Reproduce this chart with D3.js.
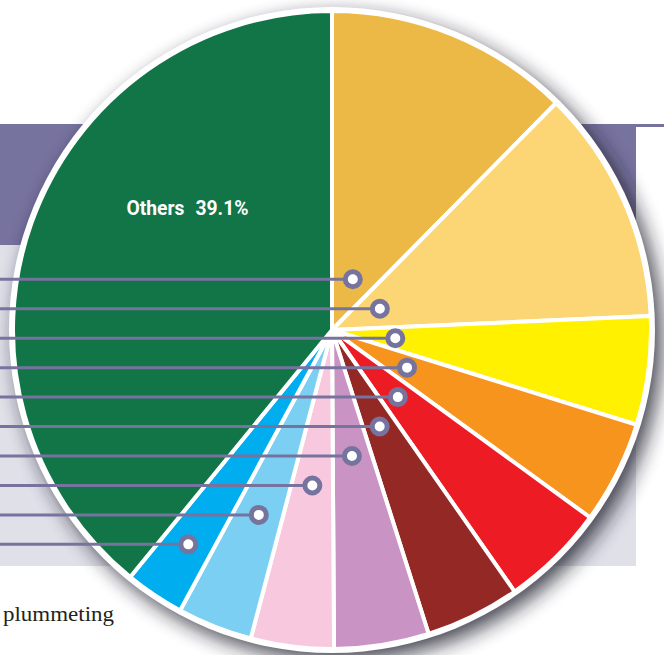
<!DOCTYPE html>
<html>
<head>
<meta charset="utf-8">
<script src="https://cdn.jsdelivr.net/npm/d3@7"></script>
<style>
  html, body { margin: 0; padding: 0; background: #fff; }
  svg { display: block; }
</style>
</head>
<body>
<svg id="drawing_region"></svg>
<script>
// data (share of total, %), clockwise from 12 o'clock
const categories = ["Segment 1", "Segment 2", "Segment 3", "Segment 4", "Segment 5",
                    "Segment 6", "Segment 7", "Segment 8", "Segment 9", "Segment 10", "Others"];
const shares = [12.4, 11.9, 5.5, 5.2, 5.3, 4.8, 4.8, 4.2, 3.8, 3.0, 39.1];
const colors = ["#edb946", "#fcd675", "#fff100", "#f7941d", "#ed1c24", "#932824",
                "#c994c4", "#f8c9de", "#7bcff3", "#00adee", "#117548"];
const footText = "plummeting";

class PieChart {

    constructor(config, data) {
        this.data = data;
        this.config = config;
        this.init();
    }

    init() {
        let self = this;
        const c = self.config;

        self.svg = d3.select(c.parent)
            .attr('width', c.width)
            .attr('height', c.height);

        // drop shadow for the disc
        const defs = self.svg.append('defs');
        const f = defs.append('filter').attr('id', 'shadow')
            .attr('x', '-20%').attr('y', '-20%').attr('width', '140%').attr('height', '140%');
        f.append('feGaussianBlur').attr('stdDeviation', 10);

        // page background bands
        self.svg.append('rect').attr('x', 0).attr('y', 124).attr('width', c.width).attr('height', 121)
            .attr('fill', '#77739f');
        self.svg.append('rect').attr('x', 0).attr('y', 245).attr('width', c.width).attr('height', 321)
            .attr('fill', '#e0e0e9');
        self.svg.append('rect').attr('x', 636).attr('y', 127).attr('width', 28).attr('height', c.height - 127)
            .attr('fill', '#fff');

        self.svg.append('text')
            .attr('x', 3).attr('y', 621)
            .attr('font-family', 'Liberation Serif, serif')
            .attr('font-size', '22px')
            .attr('fill', '#231f20')
            .attr('textLength', 111)
            .attr('lengthAdjust', 'spacingAndGlyphs')
            .text(footText);

        self.g = self.svg.append('g')
            .attr('transform', `translate(${c.cx}, ${c.cy})`);
    }

    update() {
        let self = this;
        self.pie = d3.pie()
            .sort(null)
            .value(d => d.share);
        self.arc = d3.arc()
            .innerRadius(0)
            .outerRadius(self.config.radius);
        self.arcs = self.pie(self.data);
        self.render();
    }

    render() {
        let self = this;
        const c = self.config;

        // shadow + white rim
        self.g.append('circle')
            .attr('cx', 7).attr('cy', 8)
            .attr('r', c.radius + 4)
            .attr('fill', '#1e1e2a')
            .attr('opacity', 0.8)
            .attr('filter', 'url(#shadow)');
        self.g.append('circle')
            .attr('r', c.radius + 4)
            .attr('fill', '#fff');

        self.g.selectAll('.pie')
            .data(self.arcs)
            .enter()
            .append('path')
            .attr('class', 'pie')
            .attr('d', self.arc)
            .attr('fill', d => d.data.color)
            .attr('stroke', '#fff')
            .attr('stroke-width', 4)
            .attr('stroke-linejoin', 'round');

        // label for the big slice
        const big = self.arcs[self.arcs.length - 1];
        const p = d3.pointRadial(big.startAngle + (big.endAngle - big.startAngle) * 0.635, c.radius * 0.58);
        const t = self.g.append('text')
            .attr('x', p[0]).attr('y', p[1])
            .attr('text-anchor', 'middle')
            .attr('fill', '#fff')
            .attr('font-family', 'Roboto, "DejaVu Sans Condensed", sans-serif')
            .attr('font-weight', 'bold')
            .attr('font-size', '21px')
            .attr('textLength', 122)
            .attr('lengthAdjust', 'spacingAndGlyphs');
        t.append('tspan').text(big.data.name);
        t.append('tspan').attr('dx', 12).text(big.data.share + '%');

        // leader lines with markers, one per small slice
        const small = self.arcs.slice(0, self.arcs.length - 1);
        const marks = small.map((d, i) => {
            const a = (d.startAngle + d.endAngle) / 2;
            const y = c.lineTop + i * c.lineGap - c.cy;
            const r = -y / Math.cos(a);
            return { x: r * Math.sin(a), y: y };
        });

        self.g.selectAll('.leader')
            .data(marks)
            .enter()
            .append('line')
            .attr('class', 'leader')
            .attr('x1', -c.cx).attr('x2', d => d.x)
            .attr('y1', d => d.y).attr('y2', d => d.y)
            .attr('stroke', '#77739f')
            .attr('stroke-width', 3);

        self.g.selectAll('.dot')
            .data(marks)
            .enter()
            .append('circle')
            .attr('class', 'dot')
            .attr('cx', d => d.x).attr('cy', d => d.y)
            .attr('r', 7.5)
            .attr('fill', '#fff')
            .attr('stroke', '#77739f')
            .attr('stroke-width', 5);
    }
}

const data = categories.map((name, i) => ({ name: name, share: shares[i], color: colors[i] }));
const config = {
    parent: '#drawing_region',
    width: 664,
    height: 655,
    cx: 332,
    cy: 330,
    radius: 319,
    lineTop: 279.3,
    lineGap: 29.45
};
const pc = new PieChart(config, data);
pc.update();
</script>
</body>
</html>
